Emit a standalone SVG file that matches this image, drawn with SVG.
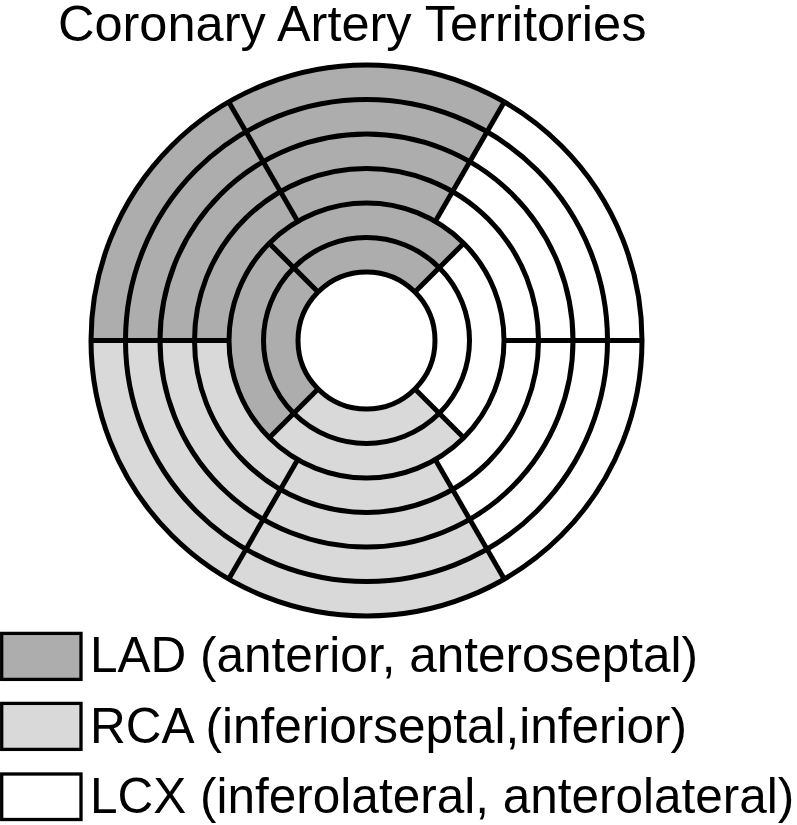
<svg xmlns="http://www.w3.org/2000/svg" width="797" height="825" viewBox="0 0 797 825">
  <style>
    .lad { fill: #adadad; }
    .rca { fill: #d9d9d9; }
    .lcx { fill: #ffffff; }
    .ring { fill: none; stroke: #000; stroke-width: 5; }
    .div { stroke: #000; stroke-width: 5; stroke-linecap: butt; }
    .box { stroke: #000; stroke-width: 3.3; }
    .txt { font-family: "Liberation Sans", Arial, sans-serif; fill: #000; }
  </style>
  <rect x="0" y="0" width="797" height="825" fill="#ffffff"/>
  <g id="title">
    <text class="txt" x="58" y="41" font-size="50.5">Coronary Artery Territories</text>
  </g>
  <g id="bullseye">
    <g id="lad-outer">
      <path class="lad" d="M 504.25 101.91 A 275.5 275.5 0 0 0 91 340.5 L 229 340.5 A 137.5 137.5 0 0 1 435.25 221.42 Z"/>
    </g>
    <g id="rca-outer">
      <path class="rca" d="M 91 340.5 A 275.5 275.5 0 0 0 504.25 579.09 L 435.25 459.58 A 137.5 137.5 0 0 1 229 340.5 Z"/>
    </g>
    <g id="lad-inner">
      <path class="lad" d="M 463.73 243.27 A 137.5 137.5 0 0 0 269.27 437.73 L 318.06 388.94 A 68.5 68.5 0 0 1 414.94 292.06 Z"/>
    </g>
    <g id="rca-inner">
      <path class="rca" d="M 269.27 437.73 A 137.5 137.5 0 0 0 463.73 437.73 L 414.94 388.94 A 68.5 68.5 0 0 1 318.06 388.94 Z"/>
    </g>
    <g id="rings">
      <circle class="ring" cx="366.5" cy="340.5" r="68.5"/>
      <circle class="ring" cx="366.5" cy="340.5" r="103"/>
      <circle class="ring" cx="366.5" cy="340.5" r="137.5"/>
      <circle class="ring" cx="366.5" cy="340.5" r="172"/>
      <circle class="ring" cx="366.5" cy="340.5" r="206.5"/>
      <circle class="ring" cx="366.5" cy="340.5" r="241"/>
      <circle class="ring" cx="366.5" cy="340.5" r="275.5"/>
    </g>
  </g>
  <g id="connectors">
    <line class="div" x1="504" y1="340.5" x2="642" y2="340.5"/>
    <line class="div" x1="435.25" y1="221.42" x2="504.25" y2="101.91"/>
    <line class="div" x1="297.75" y1="221.42" x2="228.75" y2="101.91"/>
    <line class="div" x1="229" y1="340.5" x2="91" y2="340.5"/>
    <line class="div" x1="297.75" y1="459.58" x2="228.75" y2="579.09"/>
    <line class="div" x1="435.25" y1="459.58" x2="504.25" y2="579.09"/>
    <line class="div" x1="414.94" y1="292.06" x2="463.73" y2="243.27"/>
    <line class="div" x1="318.06" y1="292.06" x2="269.27" y2="243.27"/>
    <line class="div" x1="318.06" y1="388.94" x2="269.27" y2="437.73"/>
    <line class="div" x1="414.94" y1="388.94" x2="463.73" y2="437.73"/>
  </g>
  <g id="legend-lad">
    <rect class="box lad" x="1.7" y="633.4" width="79.3" height="46"/>
    <text class="txt" x="90" y="671.7" font-size="49.5">LAD (anterior, anteroseptal)</text>
  </g>
  <g id="legend-rca">
    <rect class="box rca" x="1.7" y="703.4" width="79.3" height="46"/>
    <text class="txt" x="90" y="742.5" font-size="49.5">RCA (inferiorseptal,inferior)</text>
  </g>
  <g id="legend-lcx">
    <rect class="box lcx" x="1.7" y="774" width="79.3" height="45.5"/>
    <text class="txt" x="90" y="813.3" font-size="49.5">LCX (inferolateral, anterolateral)</text>
  </g>
</svg>
